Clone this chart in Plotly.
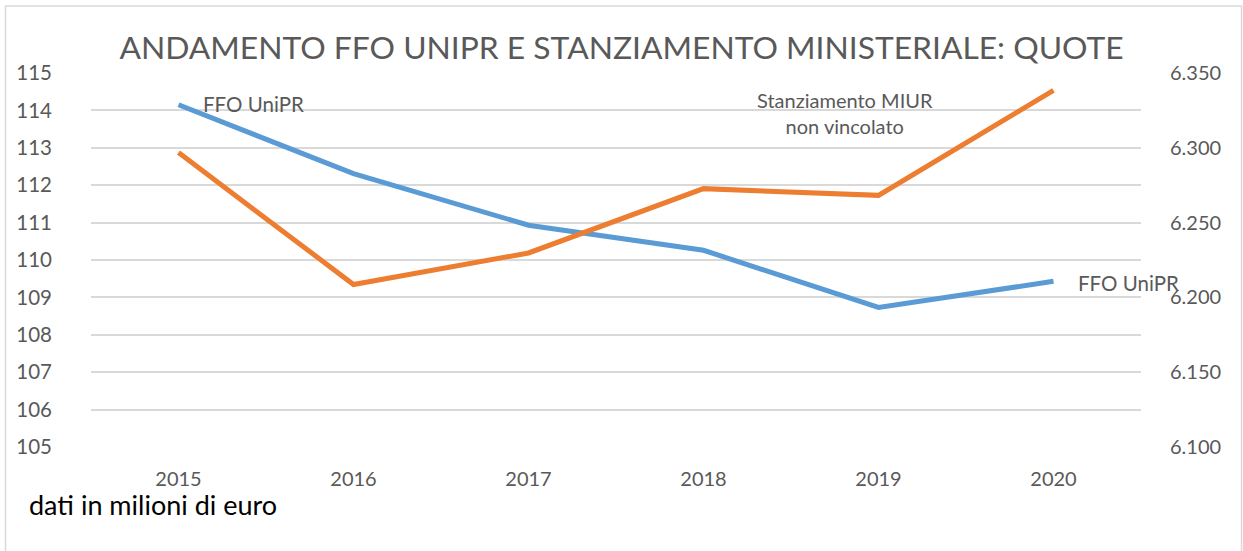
import plotly.graph_objects as go

years = ["2015", "2016", "2017", "2018", "2019", "2020"]
ffo_unipr = [114.15, 112.31, 110.93, 110.26, 108.73, 109.43]
stanz_miur = [6.2968, 6.2086, 6.2297, 6.2727, 6.2682, 6.3384]
left_ticks = list(range(105, 116))
right_ticks = [6.10, 6.15, 6.20, 6.25, 6.30, 6.35]

W, H = 1243, 551
L, R, T, B = 91, 102, 73, 104
FONT = "Lato"
GRAY = "#595959"

def px(x):
    return (x - L) / (W - L - R)

def py(y):
    return (H - B - y) / (H - T - B)

fig = go.Figure()
fig.add_trace(go.Scatter(x=years, y=ffo_unipr, mode="lines", name="FFO UniPR",
                         line=dict(color="#5B9BD5", width=5), yaxis="y"))
fig.add_trace(go.Scatter(x=years, y=stanz_miur, mode="lines", name="Stanziamento MIUR non vincolato",
                         line=dict(color="#ED7D31", width=5), yaxis="y2"))

fig.update_layout(
    width=W, height=H,
    margin=dict(l=L, r=R, t=T, b=B),
    paper_bgcolor="white", plot_bgcolor="white",
    showlegend=False,
    font=dict(family=FONT, color=GRAY, size=20),
    title=dict(text="ANDAMENTO FFO UNIPR E STANZIAMENTO MINISTERIALE: QUOTE",
               x=0.5, xanchor="center", y=1 - 48 / H, yanchor="middle",
               font=dict(family=FONT, size=31.8, color=GRAY)),
    xaxis=dict(type="category", range=[-0.5, 5.5], showgrid=False, showline=False,
               zeroline=False, ticks="", ticklabelstandoff=18,
               tickfont=dict(size=20, color=GRAY)),
    yaxis=dict(range=[105, 115], tickvals=left_ticks, showgrid=True, gridcolor="#D9D9D9",
               gridwidth=2, zeroline=False, showline=False, ticks="",
               ticklabelstandoff=38, tickfont=dict(size=20.5, color=GRAY)),
    yaxis2=dict(range=[6.10, 6.35], tickvals=right_ticks, tickformat=".3f",
                overlaying="y", side="right", showgrid=False, zeroline=False,
                showline=False, ticks="", ticklabelstandoff=28,
                tickfont=dict(size=20, color=GRAY)),
)

fig.add_shape(type="rect", xref="paper", yref="paper",
              x0=px(5.5), x1=px(1241.5), y0=py(560), y1=py(6),
              line=dict(color="#D9D9D9", width=1.5), fillcolor="rgba(0,0,0,0)", layer="below")

fig.add_annotation(text="FFO UniPR", xref="paper", yref="paper", x=px(201), y=py(104),
                   xanchor="left", yanchor="middle", showarrow=False,
                   font=dict(family=FONT, size=20.5, color=GRAY))
fig.add_annotation(text="FFO UniPR", xref="paper", yref="paper", x=px(1076), y=py(283),
                   xanchor="left", yanchor="middle", showarrow=False,
                   font=dict(family=FONT, size=20.5, color=GRAY))
fig.add_annotation(text="Stanziamento MIUR<br>non vincolato", xref="paper", yref="paper",
                   x=px(845), y=py(113), xanchor="center", yanchor="middle", showarrow=False,
                   align="center", font=dict(family=FONT, size=20, color=GRAY))
fig.add_annotation(text="dati in milioni di euro", xref="paper", yref="paper",
                   x=px(27), y=py(504), xanchor="left", yanchor="middle", showarrow=False,
                   font=dict(family=FONT, size=27, color="black"))

fig.write_html("out.html", config={"displayModeBar": False},
               post_script="document.body.style.margin='0';document.body.style.overflow='hidden';")
